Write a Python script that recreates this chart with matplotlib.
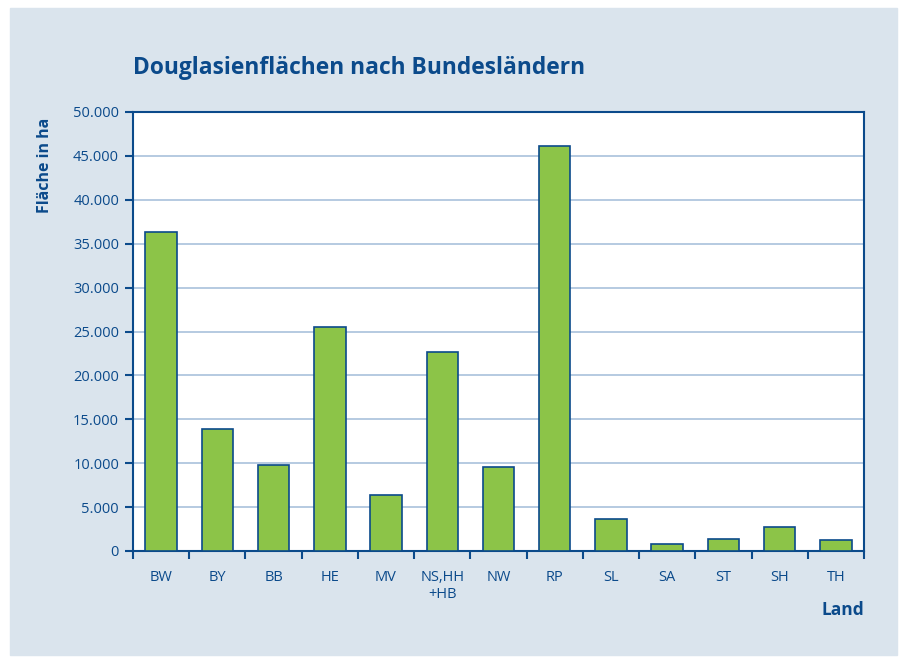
import matplotlib.pyplot as plt
import matplotlib.patches as mpatches
from matplotlib.ticker import FuncFormatter

# Daten
laender = ['BW', 'BY', 'BB', 'HE', 'MV', 'NS,HH\n+HB', 'NW', 'RP', 'SL', 'SA', 'ST', 'SH', 'TH']
flaeche = [36300, 13900, 9800, 25500, 6400, 22700, 9600, 46100, 3600, 850, 1350, 2700, 1250]

dunkelblau = '#0b4a8b'
gruen = '#8cc448'

plt.rcParams['font.family'] = ['Open Sans', 'DejaVu Sans']

fig = plt.figure(figsize=(9, 6.59), dpi=100)
fig.patch.set_facecolor('white')
# Hintergrund-Panel
fig.patches.append(mpatches.Rectangle((10/900, 4/659), 887/900, 647/659,
                                      transform=fig.transFigure, color='#dae4ed', zorder=-10))

ax = fig.add_axes([133/900, 1 - 551/659, 731/900, 439/659])
x = range(len(laender))
ax.bar(x, flaeche, width=0.56, color=gruen, edgecolor=dunkelblau, linewidth=1.2, zorder=3)

ax.set_xlim(-0.5, len(laender) - 0.5)
ax.set_ylim(0, 50000)
ax.set_yticks(range(0, 50001, 5000))
ax.yaxis.set_major_formatter(FuncFormatter(lambda v, p: f'{int(v):,}'.replace(',', '.')))
ax.grid(axis='y', color='#a9c1dc', linewidth=1.2, zorder=0)

# Ticks an Kategoriegrenzen, Beschriftung mittig
ax.set_xticks([i - 0.5 for i in range(len(laender) + 1)])
ax.set_xticklabels([])
ax.set_xticks(list(x), minor=True)
ax.set_xticklabels(laender, minor=True, color=dunkelblau, fontsize=10.5, linespacing=1.1, va='top')
ax.tick_params(axis='x', which='minor', length=0, pad=14)
ax.tick_params(axis='x', which='major', length=6, width=1.5, color=dunkelblau, direction='out')
ax.tick_params(axis='y', length=6, width=1.5, color=dunkelblau, labelcolor=dunkelblau, labelsize=10.5, pad=4)

for s in ax.spines.values():
    s.set_color(dunkelblau)
    s.set_linewidth(1.5)

fig.text(133/900, 1 - 68/659, 'Douglasienflächen nach Bundesländern', fontsize=16.4,
         fontweight='bold', color=dunkelblau, va='center', ha='left')
fig.text(45/900, 1 - 165/659, 'Fläche in ha', rotation=90, fontsize=11.5, fontweight='bold',
         color=dunkelblau, va='center', ha='center')
fig.text(864/900, 1 - 610/659, 'Land', fontsize=12.5, fontweight='bold',
         color=dunkelblau, va='center', ha='right')

fig.savefig('out.png', dpi=100)
